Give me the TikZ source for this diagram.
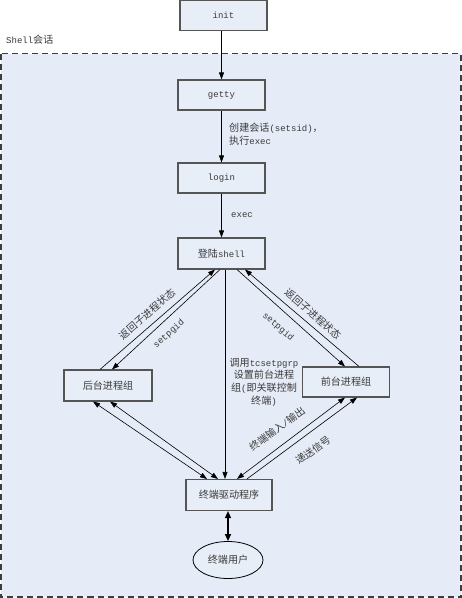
\documentclass[tikz,border=0pt]{standalone}
\usepackage{fontspec}
\setmainfont{Liberation Mono}
\newfontfamily\cjk{Noto Sans CJK SC}[Scale=1.12]
\newcommand\zh[1]{{\cjk #1}}
\usetikzlibrary{arrows.meta,calc,shapes.geometric}
\definecolor{bgblue}{HTML}{E6ECF7}
\definecolor{boxfill}{HTML}{E8EEF8}
\definecolor{boxgray}{HTML}{555555}
\definecolor{dashgray}{HTML}{3C3C3C}
\definecolor{txt}{HTML}{3A3A3A}
\begin{document}
\begin{tikzpicture}[x=1pt,y=-1pt,
  box/.style={draw=boxgray,line width=1.1pt,fill=boxfill,minimum width=87pt,minimum height=30pt,inner sep=0pt,text=txt,font=\fontsize{9}{11}\selectfont},
  userell/.style={ellipse,draw=black,line width=0.8pt,fill=boxfill,minimum width=70pt,minimum height=37pt,inner sep=0pt,text=txt,font=\fontsize{9}{11}\selectfont},
  conn/.style={draw=black,line width=0.6pt,-{Triangle[length=7pt,width=5pt]}},
  biconn/.style={draw=black,line width=0.6pt,{Triangle[length=7pt,width=5pt]}-{Triangle[length=7pt,width=5pt]}},
  lab/.style={inner sep=0pt,text=txt,font=\fontsize{9}{12.7}\selectfont},
  region/.style={draw=dashgray,line width=1.8pt,dash pattern=on 6pt off 4pt,fill=bgblue}]
\useasboundingbox (0,0) rectangle (462,598);
\fill[white] (0,0) rectangle (462,598);
\draw[region] (1,53.5) rectangle (461,597);
\node[lab,anchor=west] (shelllab) at (6,40) {Shell\zh{会话}};

\node[box] (init) at (223.5,15.5) {init};
\node[box] (getty) at (221.5,95) {getty};
\node[box] (login) at (221.5,178) {login};
\node[box,minimum height=31pt] (shell) at (221.5,253.5) {\zh{登陆}shell};
\node[box,minimum width=88pt,minimum height=31pt] (bkg) at (108,385.5) {\zh{后台进程组}};
\node[box] (fg) at (346,382) {\zh{前台进程组}};
\node[box,minimum width=86pt,minimum height=31pt] (drv) at (229,495) {\zh{终端驱动程序}};
\node[userell] (user) at (228,560) {\zh{终端用户}};

% vertical chain
\draw[conn] (init.south -| getty.north) -- (getty.north);
\draw[conn] (getty) -- (login);
\draw[conn] (login) -- (shell);
\node[lab,anchor=west,align=left] (l1) at (229,134) {\zh{创建会话}(setsid)\zh{，}\\\zh{执行}exec};
\node[lab,anchor=west] (l2) at (231,215) {exec};

% shell <-> background group
\draw[conn] ($(bkg.north)+(-8,0)$) -- ($(shell.south)+(-6.5,0)$);
\draw[conn] ($(shell.south)+(-1.5,0)$) -- ($(bkg.north)+(4,0)$);
\node[lab,rotate=41] (l3) at (147,314) {\zh{返回子进程状态}};
\node[lab,rotate=41] (l4) at (169,334) {setpgid};

% shell -> driver
\draw[conn] ($(shell.south)+(3.5,0)$) -- ($(drv.north)+(-4,0)$);
\node[lab,align=center] (l5) at (264,382) {\zh{调用}tcsetpgrp\\\zh{设置前台进程}\\\zh{组}(\zh{即关联控制}\\\zh{终端})};

% shell <-> foreground group
\draw[conn] ($(shell.south)+(15.5,0)$) -- ($(fg.north)+(-1,0)$);
\draw[conn] ($(fg.north)+(13,0)$) -- ($(shell.south)+(23.5,0)$);
\node[lab,rotate=-41] (l6) at (313,314) {\zh{返回子进程状态}};
\node[lab,rotate=-41] (l7) at (278,327) {setpgid};

% background <-> driver
\draw[biconn] ($(bkg.south)+(-15,0)$) -- ($(drv.north)+(-22,0)$);
\draw[biconn] ($(bkg.south)+(2,0)$) -- ($(drv.north)+(-11,0)$);

% foreground <-> driver
\draw[biconn] ($(drv.north)+(8,0)$) -- ($(fg.south)+(-1,0)$);
\draw[conn] ($(drv.north)+(18,0)$) -- ($(fg.south)+(11,0)$);
\node[lab,rotate=36] (l8) at (277,429) {\zh{终端输入}/\zh{输出}};
\node[lab,rotate=36] (l9) at (313,450) {\zh{递送信号}};

% driver <-> user
\draw[draw=black,line width=1.4pt,{Triangle[length=7pt,width=6pt]}-{Triangle[length=7pt,width=6pt]}] (drv.south -| user.north) -- (user.north);
\end{tikzpicture}
\end{document}
